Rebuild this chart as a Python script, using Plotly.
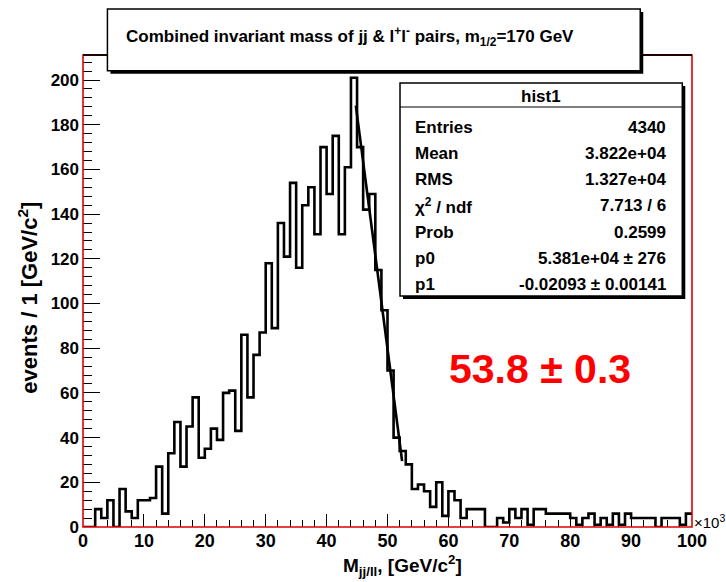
import plotly.graph_objects as go

# ---------------- data ----------------
bin_edges_k = list(range(0, 101))          # x in units of 10^3 (1 per bin)
counts = [0, 0, 8, 4, 12, 0, 17, 7, 4, 12, 12, 13, 27, 6, 33, 47, 27, 45, 58, 31,
          35, 44, 39, 60, 61, 43, 86, 58, 77, 87, 118, 89, 136, 121, 154, 116, 144, 152, 131, 170,
          149, 175, 131, 161, 201, 170, 142, 149, 115, 97, 70, 40, 34, 28, 17, 19, 16, 9, 20, 5,
          16, 12, 4, 8, 8, 8, 0, 0, 4, 2, 8, 4, 8, 1, 8, 8, 6, 6, 6, 6,
          4, 1, 4, 6, 1, 4, 1, 6, 1, 6, 4, 4, 4, 4, 0, 4, 4, 4, 1, 6]
fit_p0 = 5.381e4
fit_p1 = -0.02093
fit_range_k = [44.8, 52.4]

title_text = "Combined invariant mass of jj & l<sup>+</sup>l<sup>-</sup> pairs, m<sub>1/2</sub>=170 GeV"
stats_name = "hist1"
stat_labels = ["Entries", "Mean", "RMS", "\u03c7<sup>2</sup> / ndf", "Prob", "p0", "p1"]
stat_values = ["4340", "3.822e+04", "1.327e+04", "7.713 / 6", "0.2599",
               "5.381e+04 \u00b1 276", "-0.02093 \u00b1 0.00141"]
result_text = "53.8 \u00b1 0.3"
x_title = "M<sub>jj/ll</sub>, [GeV/c<sup>2</sup>]"
y_title = "events / 1 [GeV/c<sup>2</sup>]"
x_exponent = "\u00d710<sup>3</sup>"
x_tickvals = list(range(0, 101, 10))
y_tickvals = list(range(0, 201, 20))

# ---------------- layout helpers ----------------
W, H = 726, 582
PL, PR, PT, PB = 83.3, 691.7, 55.0, 527.0
Y_MAX = 211.2
FONT = "Liberation Sans, Arial, Helvetica, sans-serif"


def px(xp):
    return (xp - PL) / (PR - PL)


def py(yp):
    return (PB - yp) / (PB - PT)


fig = go.Figure()

# histogram outline
hx = bin_edges_k
hy = counts + [counts[-1]]
fig.add_trace(go.Scatter(x=hx, y=hy, mode="lines", line=dict(color="black", width=2.6, shape="hv"),
                         hoverinfo="skip", showlegend=False))

# fit line
fx = fit_range_k
fy = [fit_p1 * (v * 1000 - fit_p0) for v in fx]
fig.add_trace(go.Scatter(x=fx, y=fy, mode="lines", line=dict(color="black", width=2.6),
                         hoverinfo="skip", showlegend=False))

shapes = []
# frame: red, top black
shapes.append(dict(type="rect", xref="paper", yref="paper", x0=0, x1=1, y0=0, y1=1,
                   line=dict(color="#e00000", width=1.6), layer="above"))
shapes.append(dict(type="line", xref="paper", yref="paper", x0=0, x1=1, y0=1, y1=1,
                   line=dict(color="#200000", width=2), layer="above"))

# title box with shadow
tb = (107.7, 640.0, 9.0, 70.7)
shapes.append(dict(type="rect", xref="paper", yref="paper", x0=px(tb[0] + 3), x1=px(tb[1] + 3),
                   y0=py(tb[3] + 3), y1=py(tb[2] + 3), fillcolor="black", line=dict(width=0), layer="above"))
shapes.append(dict(type="rect", xref="paper", yref="paper", x0=px(tb[0]), x1=px(tb[1]),
                   y0=py(tb[3]), y1=py(tb[2]), fillcolor="white", line=dict(color="black", width=1.5),
                   layer="above"))

# stats box with shadow
sb = (400.0, 682.0, 83.0, 296.0)
shapes.append(dict(type="rect", xref="paper", yref="paper", x0=px(sb[0] + 3), x1=px(sb[1] + 3),
                   y0=py(sb[3] + 3), y1=py(sb[2] + 3), fillcolor="black", line=dict(width=0), layer="above"))
shapes.append(dict(type="rect", xref="paper", yref="paper", x0=px(sb[0]), x1=px(sb[1]),
                   y0=py(sb[3]), y1=py(sb[2]), fillcolor="white", line=dict(color="black", width=1.5),
                   layer="above"))
shapes.append(dict(type="line", xref="paper", yref="paper", x0=px(sb[0]), x1=px(sb[1]),
                   y0=py(107), y1=py(107), line=dict(color="black", width=1.2), layer="above"))

annotations = []
annotations.append(dict(xref="paper", yref="paper", x=px(124), y=py(36), xanchor="left", yanchor="middle",
                        text=title_text, showarrow=False,
                        font=dict(family=FONT, size=17, color="black", weight="bold")))
annotations.append(dict(xref="paper", yref="paper", x=px((sb[0] + sb[1]) / 2), y=py(96), xanchor="center",
                        yanchor="middle", text=stats_name, showarrow=False,
                        font=dict(family=FONT, size=17, color="black", weight="bold")))
row_y0, row_dy = 127.0, 26.3
for i, (lab, val) in enumerate(zip(stat_labels, stat_values)):
    yy = row_y0 + i * row_dy
    annotations.append(dict(xref="paper", yref="paper", x=px(413), y=py(yy), xanchor="left", yanchor="middle",
                            text=lab, showarrow=False,
                            font=dict(family=FONT, size=17, color="black", weight="bold")))
    annotations.append(dict(xref="paper", yref="paper", x=px(668), y=py(yy), xanchor="right", yanchor="middle",
                            text=val, showarrow=False,
                            font=dict(family=FONT, size=17, color="black", weight="bold")))

annotations.append(dict(xref="paper", yref="paper", x=px(540), y=py(369), xanchor="center", yanchor="middle",
                        text=result_text, showarrow=False,
                        font=dict(family=FONT, size=41, color="#ff0000", weight="bold")))
annotations.append(dict(xref="paper", yref="paper", x=px(402), y=py(565), xanchor="center", yanchor="middle",
                        text=x_title, showarrow=False,
                        font=dict(family=FONT, size=19, color="black", weight="bold")))
annotations.append(dict(xref="paper", yref="paper", x=px(28), y=py(298), xanchor="center", yanchor="middle",
                        text=y_title, showarrow=False, textangle=-90,
                        font=dict(family=FONT, size=22, color="black", weight="bold")))
annotations.append(dict(xref="paper", yref="paper", x=px(692), y=py(521), xanchor="left", yanchor="middle",
                        text=x_exponent, showarrow=False,
                        font=dict(family=FONT, size=15, color="black")))

fig.update_layout(
    width=W, height=H,
    margin=dict(l=PL, r=W - PR, t=PT, b=H - PB, pad=0),
    paper_bgcolor="white", plot_bgcolor="white",
    showlegend=False,
    shapes=shapes, annotations=annotations,
    xaxis=dict(range=[0, 100], tickvals=x_tickvals, ticks="inside", ticklen=13, tickwidth=1.2,
               tickcolor="black", showgrid=False, zeroline=False, showline=False,
               minor=dict(dtick=2, ticks="inside", ticklen=7, tickwidth=1.2, tickcolor="black", showgrid=False),
               tickfont=dict(family=FONT, size=18, color="black", weight="bold"),
               ticklabelstandoff=1),
    yaxis=dict(range=[0, Y_MAX], tickvals=y_tickvals, ticks="inside", ticklen=17, tickwidth=1.2,
               tickcolor="black", showgrid=False, zeroline=False, showline=False,
               minor=dict(dtick=4, ticks="inside", ticklen=9, tickwidth=1.2, tickcolor="black", showgrid=False),
               tickfont=dict(family=FONT, size=17, color="black", weight="bold"),
               ticklabelstandoff=3),
)

fig.write_html("out.html", config={"displayModeBar": False},
               post_script="document.body.style.margin='0px';")
